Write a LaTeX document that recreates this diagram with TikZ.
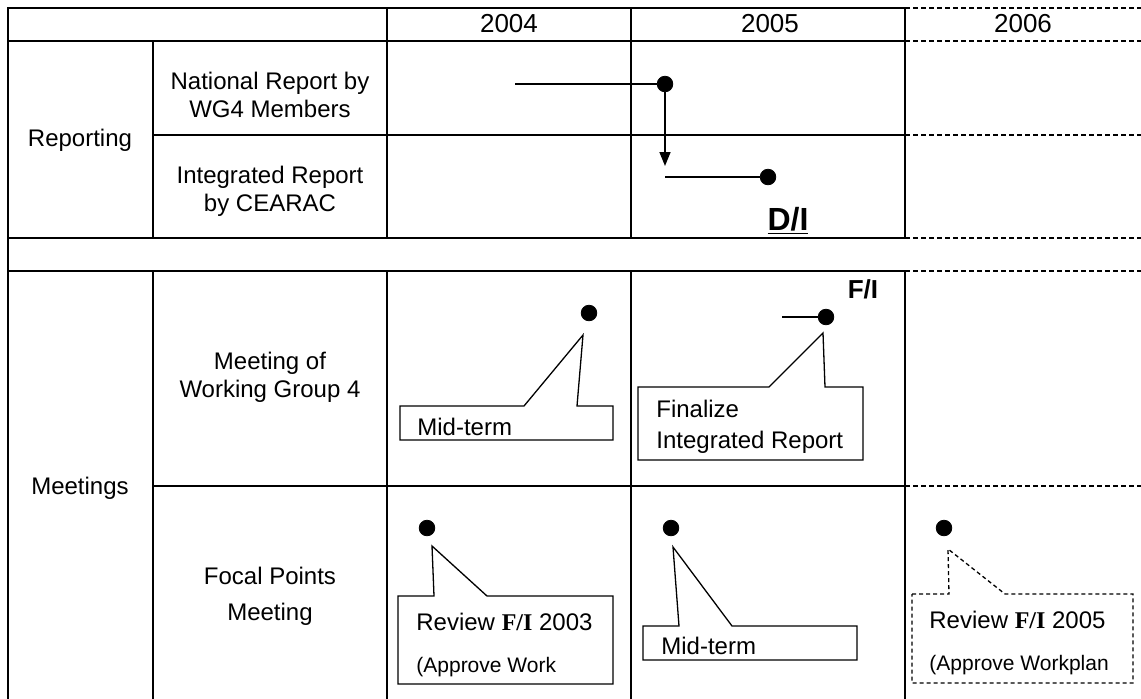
\documentclass[tikz,border=0pt]{standalone}
\usepackage{fontspec}
\setmainfont{Liberation Sans}
\newfontfamily\timesfont{Liberation Serif}
\usetikzlibrary{arrows.meta}

\begin{document}
\begin{tikzpicture}[x=0.5pt,y=-0.5pt]
	\tikzset{milestone/.style={draw, circle, inner sep=0pt, minimum size=7.8pt, fill=black},
		yeartext/.style={font=\fontsize{13}{15}\selectfont, inner sep=0pt},
		rowtext/.style={font=\fontsize{12}{14}\selectfont, align=center, inner sep=0pt},
		notetext/.style={font=\fontsize{12}{14}\selectfont, anchor=west, inner sep=0pt},
		smalltext/.style={font=\fontsize{10.5}{12}\selectfont, anchor=west, inner sep=0pt},
		rule/.style={line width=1pt, line cap=rect},
		future/.style={line width=1pt, dash pattern=on 2.5pt off 1.5pt},
		balloon/.style={line width=0.65pt, line join=miter},
		track/.style={line width=0.75pt}}
	\def \fimark {{\timesfont\bfseries F/I}}
	\useasboundingbox (0,0) rectangle (1141,698);
	
	% table
	\foreach \y in {8,41,238,271}
		\draw[rule] (8,\y) -- (905,\y);
	\foreach \y in {135,486}
		\draw[rule] (153,\y) -- (905,\y);
	\foreach \y in {8,41,135,238,271,486}
		\draw[future] (905,\y) -- (1141,\y);
	\draw[rule] (8,8) -- (8,698);
	\draw[rule] (153,41) -- (153,238) (153,271) -- (153,698);
	\foreach \x in {387,631,905}
		\draw[rule] (\x,8) -- (\x,238) (\x,271) -- (\x,698);
	
	\foreach \yr/\x in {2004/509,2005/770,2006/1023}
		\node[yeartext] (y\yr) at (\x,24) {\yr};
	\node[rowtext] (reporting) at (80,140) {Reporting};
	\node[rowtext] (meetings) at (80,488) {Meetings};
	\node[rowtext] (national) at (270,95) {National Report by\\WG4 Members};
	\node[rowtext] (integrated) at (270,191) {Integrated Report\\by CEARAC};
	\node[rowtext] (wgmeet) at (270,377) {Meeting of\\Working Group 4};
	\node[rowtext, align=center] (focal) at (270,596) {Focal Points\\[4pt]Meeting};
	
	% reporting
	\coordinate (natStart) at (515,84);
	\node[milestone] (natEnd) at (665,84) {};
	\draw[track] (natStart) -- (natEnd);
	\coordinate (handover) at (665,166);
	\draw[track, -{Triangle[length=7pt,width=5.5pt]}] (natEnd) -- (handover);
	\coordinate (intStart) at (665,177);
	\node[milestone] (intEnd) at (768,177) {};
	\draw[track] (intStart) -- (intEnd);
	\node[font=\fontsize{16}{18}\selectfont\bfseries, inner sep=0pt] (draftInt) at (788,221) {\underline{D/I}};
	
	% working group meetings
	\node[milestone] (wgA) at (589,313) {};
	\draw[balloon] (400,406) -- (524,406) -- (583,335) -- (577,406) -- (613,406) -- (613,440) -- (400,440) -- cycle;
	\node[notetext] (wgAtext) at (417,427) {Mid-term};
	
	\node[font=\fontsize{13}{15}\selectfont\bfseries, inner sep=0pt] (finalInt) at (863,289) {F/I};
	\coordinate (wgBstart) at (782,317);
	\node[milestone] (wgB) at (826,317) {};
	\draw[track] (wgBstart) -- (wgB);
	\draw[balloon] (638,387) -- (769,387) -- (823,333) -- (825,387) -- (863,387) -- (863,460) -- (638,460) -- cycle;
	\node[notetext] (wgBtext1) at (656,409) {Finalize};
	\node[notetext] (wgBtext2) at (656,442) {Integrated Report};
	
	% focal points meetings
	\node[milestone] (fpA) at (427,528) {};
	\draw[balloon] (398,596) -- (434,596) -- (432,546) -- (487,596) -- (613,596) -- (613,684) -- (398,684) -- cycle;
	\node[notetext] (fpAtext1) at (416,622) {Review \fimark{} 2003};
	\node[smalltext] (fpAtext2) at (416,667) {(Approve Work};
	
	\node[milestone] (fpB) at (671,528) {};
	\draw[balloon] (643,626) -- (679,626) -- (673,547) -- (732,626) -- (857,626) -- (857,660) -- (643,660) -- cycle;
	\node[notetext] (fpBtext) at (661,646) {Mid-term};
	
	\node[milestone] (fpC) at (944,528) {};
	\draw[balloon, dash pattern=on 2pt off 1.5pt] (912,594) -- (949,594) -- (948,549) -- (1005,594) -- (1133,594) -- (1133,683) -- (912,683) -- cycle;
	\node[notetext] (fpCtext1) at (929,620) {Review \fimark{} 2005};
	\node[smalltext] (fpCtext2) at (929,665) {(Approve Workplan};
\end{tikzpicture}
\end{document}
